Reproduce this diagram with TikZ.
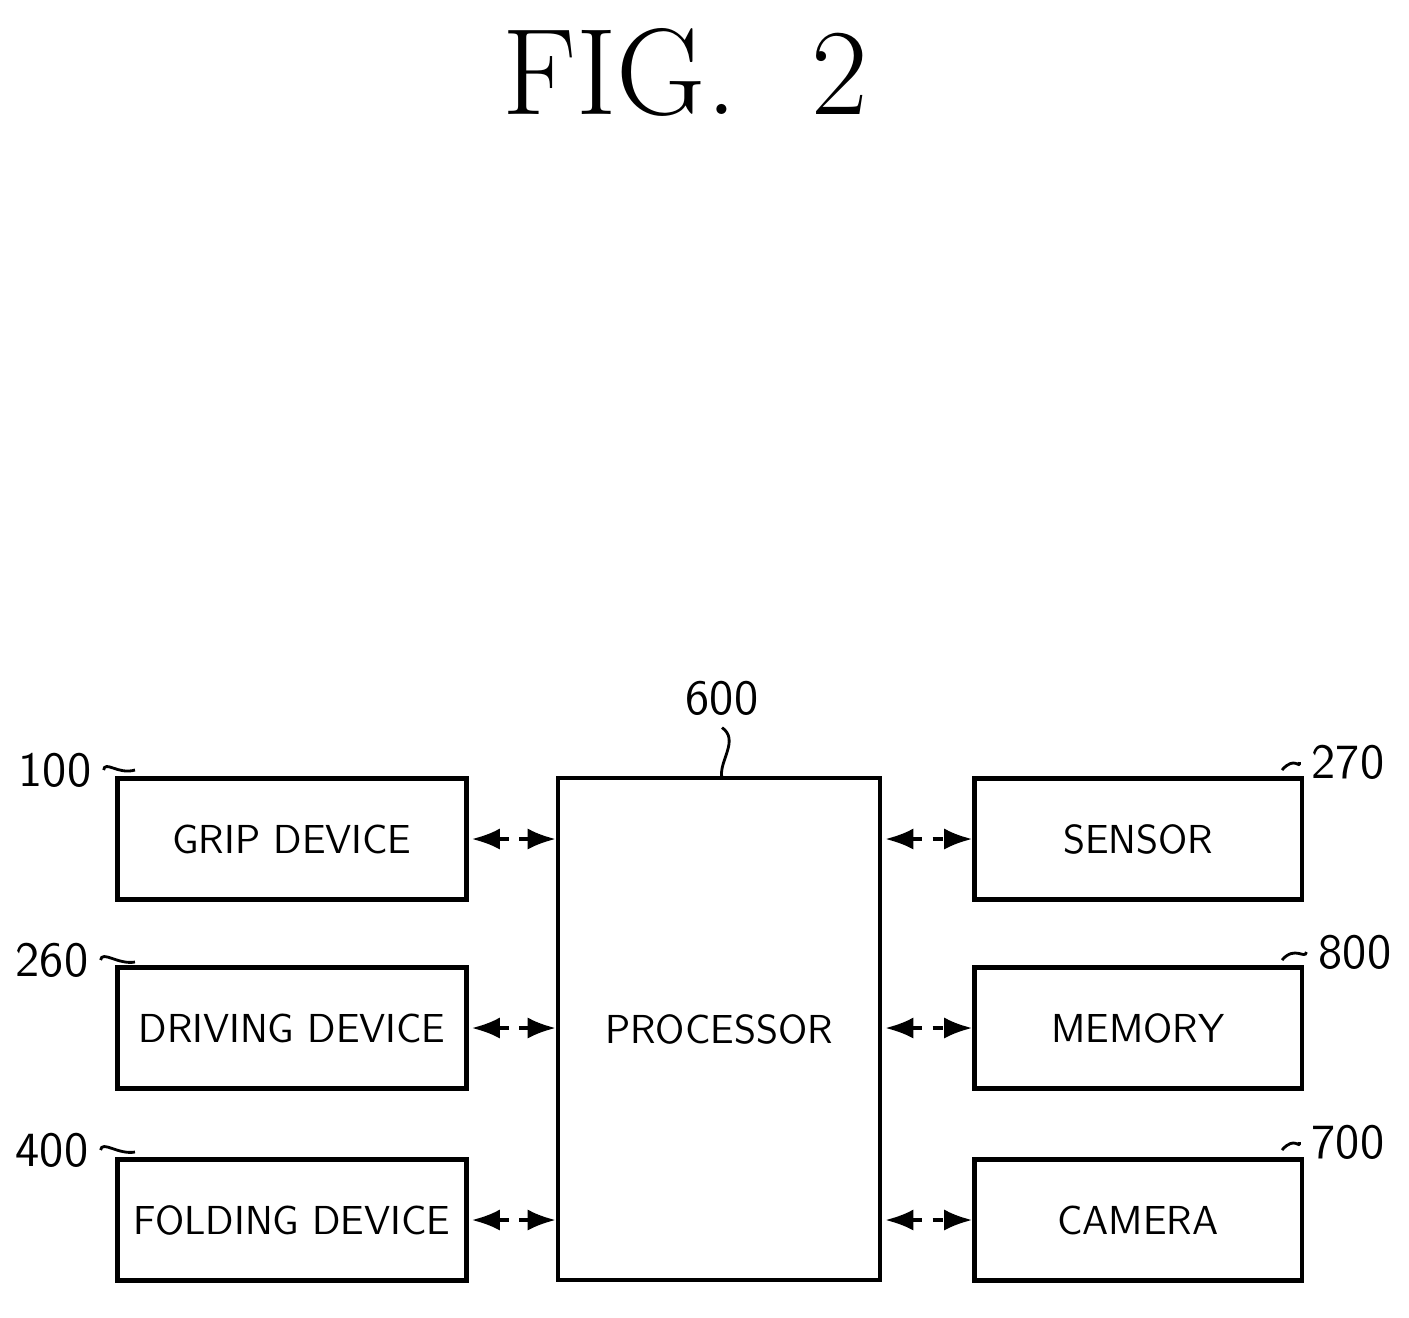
\documentclass[tikz,border=0pt]{standalone}
\usepackage{tikz}
\usetikzlibrary{arrows.meta}
\tikzset{
  blk/.style={draw, line width=1.2pt, inner sep=0pt, font=\sffamily\fontsize{11.5}{14}\selectfont},
  side/.style={blk, minimum width=3.49cm, minimum height=1.21cm},
  sideR/.style={blk, minimum width=3.27cm, minimum height=1.21cm},
  link/.style={{Latex[length=8pt]}-{Latex[length=8pt]}, dashed, line width=1pt},
  refno/.style={font=\sffamily\fontsize{14}{17}\selectfont},
  lead/.style={line width=0.8pt}
}
\begin{document}
\begin{tikzpicture}[x=0.01cm,y=-0.01cm]
	\useasboundingbox (0,0) rectangle (1409,1317);
	\node[font=\fontsize{35}{40}\selectfont] (title) at (685,72) {FIG.~~2};
	% left column
	\node[side] (grip) at (292,839) {GRIP DEVICE};
	\node[side] (drive) at (292,1028) {DRIVING DEVICE};
	\node[side] (fold) at (292,1220) {FOLDING DEVICE};
	% processor
	\node[blk, minimum width=3.22cm, minimum height=5.02cm] (proc) at (719,1029) {PROCESSOR};
	% right column
	\node[sideR] (sens) at (1138,839) {SENSOR};
	\node[sideR] (mem) at (1138,1028) {MEMORY};
	\node[sideR] (cam) at (1138,1220) {CAMERA};
	% connectors
	\draw[link] (grip.east) ++(3,0) -- (proc.west |- grip.east);
	\draw[link] (drive.east) ++(3,0) -- (proc.west |- drive.east);
	\draw[link] (fold.east) ++(3,0) -- (proc.west |- fold.east);
	\draw[link] (proc.east |- sens.west) ++(3,0) -- (sens.west);
	\draw[link] (proc.east |- mem.west) ++(3,0) -- (mem.west);
	\draw[link] (proc.east |- cam.west) ++(3,0) -- (cam.west);
	% reference numerals
	\node[refno] (n600) at (722,698) {600};
	\node[refno] (n100) at (55,770) {100};
	\node[refno] (n260) at (52,960) {260};
	\node[refno] (n400) at (52,1150) {400};
	\node[refno] (n270) at (1348,762) {270};
	\node[refno] (n800) at (1355,952) {800};
	\node[refno] (n700) at (1348,1142) {700};
	\draw[lead] (n600.south) .. controls (740,740) and (718,762) .. (722,778);
	\draw[lead] (n100.east) .. controls (105,760) and (118,775) .. (135,770);
	\draw[lead] (n260.east) .. controls (102,950) and (118,965) .. (135,962);
	\draw[lead] (n400.east) .. controls (102,1140) and (118,1155) .. (135,1152);
	\draw[lead] (n270.west) .. controls (1300,770) and (1295,755) .. (1282,770);
	\draw[lead] (n800.west) .. controls (1305,960) and (1295,945) .. (1282,960);
	\draw[lead] (n700.west) .. controls (1300,1150) and (1295,1135) .. (1282,1150);
\end{tikzpicture}
\end{document}
